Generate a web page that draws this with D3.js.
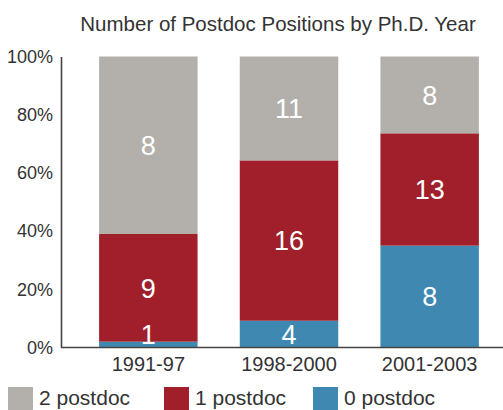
<!DOCTYPE html>
<html>
<head>
<meta charset="utf-8">
<script src="https://cdn.jsdelivr.net/npm/d3@7"></script>
<style>
  body { margin: 0; background: #fff; }
  svg text { font-family: "Liberation Sans", Arial, sans-serif; }
</style>
</head>
<body>
<div id="chart"></div>
<script>
// categories and series (percent share, counts are the printed labels)
var years = ["1991-97", "1998-2000", "2001-2003"];
var seriesNames = ["0 postdoc", "1 postdoc", "2 postdoc"];
var pct0 = [2, 9.2, 35];
var pct1 = [37, 55.1, 38.6];
var pct2 = [61, 35.7, 26.4];
var count0 = [1, 4, 8];
var count1 = [9, 16, 13];
var count2 = [8, 11, 8];
var yTicks = [0, 20, 40, 60, 80, 100];
var legendOrder = ["2 postdoc", "1 postdoc", "0 postdoc"];

var width = 503;
var height = 410;
var color = d3.scaleOrdinal()
  .domain(seriesNames)
  .range(["#3f88b2", "#a01f2a", "#b3b0ac"]);

var rows = years.map(function(y, i) {
  return {year: y, "0 postdoc": pct0[i], "1 postdoc": pct1[i], "2 postdoc": pct2[i],
          counts: [count0[i], count1[i], count2[i]]};
});

var svg = d3.select("#chart")
  .append("svg")
  .attr("width", width)
  .attr("height", height);

var x = d3.scaleBand()
  .domain(years)
  .range([78, 500])
  .paddingInner(0.3)
  .paddingOuter(0.15);

var y = d3.scaleLinear()
  .domain([0, 100])
  .range([347.5, 56.5]);

var stack = d3.stack().keys(seriesNames);
var layers = stack(rows);

// bars
var layer = svg.selectAll("g.layer")
  .data(layers)
  .enter()
  .append("g")
  .attr("class", "layer")
  .attr("fill", function(d) { return color(d.key); });

layer.selectAll("rect")
  .data(function(d) { return d; })
  .enter()
  .append("rect")
  .attr("x", function(d) { return x(d.data.year); })
  .attr("y", function(d) { return y(d[1]); })
  .attr("width", x.bandwidth())
  .attr("height", function(d) { return y(d[0]) - y(d[1]); });

// value labels
layers.forEach(function(l, k) {
  svg.append("g").selectAll("text")
    .data(l)
    .enter()
    .append("text")
    .attr("x", function(d) { return x(d.data.year) + x.bandwidth() / 2; })
    .attr("y", function(d) {
      var mid = (y(d[0]) + y(d[1])) / 2;
      return Math.min(mid, y(0) - 13);
    })
    .attr("dy", "0.36em")
    .attr("text-anchor", "middle")
    .attr("fill", "#fff")
    .style("font-size", "27px")
    .text(function(d) { return d.data.counts[k]; });
});

// axes
var yAxis = d3.axisLeft(y)
  .tickValues(yTicks)
  .tickSize(0)
  .tickPadding(8)
  .tickFormat(function(d) { return d + "%"; });

var gy = svg.append("g")
  .attr("transform", "translate(61,0)")
  .call(yAxis);
gy.select(".domain").attr("stroke", "#444").attr("stroke-width", 1.6);
gy.selectAll("text")
  .attr("fill", "#333")
  .style("font-size", "18px")
  .attr("font-family", null);

svg.append("line")
  .attr("x1", 61).attr("x2", width)
  .attr("y1", y(0)).attr("y2", y(0))
  .attr("stroke", "#444")
  .attr("stroke-width", 1.6);

var xAxis = d3.axisBottom(x).tickSize(0).tickPadding(9);
var gx = svg.append("g")
  .attr("transform", "translate(0," + y(0) + ")")
  .call(xAxis);
gx.select(".domain").remove();
gx.selectAll("text")
  .attr("fill", "#333")
  .style("font-size", "20px")
  .attr("font-family", null);

// title
svg.append("text")
  .attr("x", 278)
  .attr("y", 31)
  .attr("text-anchor", "middle")
  .attr("fill", "#333")
  .style("font-size", "20.5px")
  .text("Number of Postdoc Positions by Ph.D. Year");

// legend
var legendX = [8, 164, 313];
var leg = svg.selectAll("g.legend")
  .data(legendOrder)
  .enter()
  .append("g")
  .attr("class", "legend")
  .attr("transform", function(d, i) { return "translate(" + legendX[i] + ",387)"; });

leg.append("rect")
  .attr("width", 25)
  .attr("height", 25)
  .attr("fill", function(d) { return color(d); });

leg.append("text")
  .attr("x", 31)
  .attr("y", 18)
  .attr("fill", "#333")
  .style("font-size", "21px")
  .text(function(d) { return d; });
</script>
</body>
</html>
